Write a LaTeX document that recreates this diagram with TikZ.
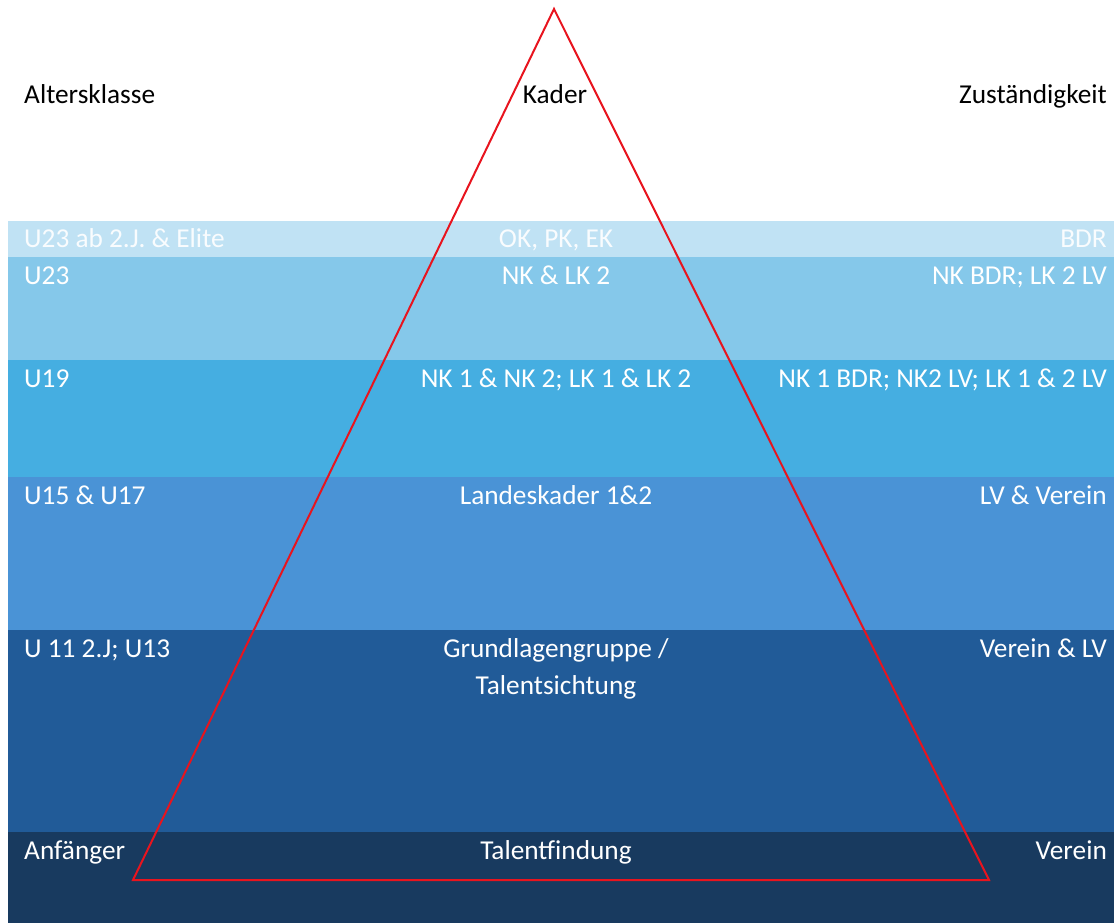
\documentclass[tikz,border=0pt]{standalone}
\usepackage{fontspec}
\setmainfont{Carlito}
\definecolor{bA}{HTML}{C0E2F4}
\definecolor{bB}{HTML}{85C8EA}
\definecolor{bC}{HTML}{45AEE1}
\definecolor{bD}{HTML}{4A93D6}
\definecolor{bE}{HTML}{215B98}
\definecolor{bF}{HTML}{183A5F}
\definecolor{tri}{HTML}{E8141E}
\tikzset{
  lbl/.style={font=\fontsize{27.3}{33}\selectfont, inner sep=0pt, text=white},
  lft/.style={lbl, anchor=base west},
  rgt/.style={lbl, anchor=base east},
  mid/.style={lbl, anchor=base},
  hdr/.style={lbl, text=black},
}
\begin{document}
\begin{tikzpicture}[x=1pt,y=-1pt]
\useasboundingbox (0,0) rectangle (1114,923);
\fill[bA] (8,221) rectangle (1114,257);
\fill[bB] (8,257) rectangle (1114,360);
\fill[bC] (8,360) rectangle (1114,477);
\fill[bD] (8,477) rectangle (1114,630);
\fill[bE] (8,630) rectangle (1114,832);
\fill[bF] (8,832) rectangle (1114,923);
% headers
\node[hdr, anchor=base west] (h1) at (24,104) {Altersklasse};
\node[hdr, anchor=base] (h2) at (555,104) {Kader};
\node[hdr, anchor=base east] (h3) at (1107,104) {Zuständigkeit};
% rows
\node[lft, text=white!90!bA] (l1) at (24,247) {U23 ab 2.J. \& Elite};
\node[mid, text=white!90!bA] (m1) at (556,247) {OK, PK, EK};
\node[rgt, text=white!90!bA] (r1) at (1107,247) {BDR};
\node[lft] (l2) at (24,284) {U23};
\node[mid] (m2) at (556,284) {NK \& LK 2};
\node[rgt] (r2) at (1107,284) {NK BDR; LK 2 LV};
\node[lft] (l3) at (24,387) {U19};
\node[mid] (m3) at (556,387) {NK 1 \& NK 2; LK 1 \& LK 2};
\node[rgt] (r3) at (1107,387) {NK 1 BDR; NK2 LV; LK 1 \& 2 LV};
\node[lft] (l4) at (24,504) {U15 \& U17};
\node[mid] (m4) at (556,504) {Landeskader 1\&2};
\node[rgt] (r4) at (1107,504) {LV \& Verein};
\node[lft] (l5) at (24,657) {U 11 2.J; U13};
\node[mid] (m5) at (556,657) {Grundlagengruppe /};
\node[mid] (m5b) at (556,694) {Talentsichtung};
\node[rgt] (r5) at (1107,657) {Verein \& LV};
\node[lft] (l6) at (24,859) {Anfänger};
\node[mid] (m6) at (556,859) {Talentfindung};
\node[rgt] (r6) at (1107,859) {Verein};
% triangle
\coordinate (apex) at (554,9);
\coordinate (bl) at (133,880);
\coordinate (br) at (989,880);
\draw[tri, line width=2pt, line join=miter] (apex) -- (br) -- (bl) -- cycle;
\end{tikzpicture}
\end{document}
